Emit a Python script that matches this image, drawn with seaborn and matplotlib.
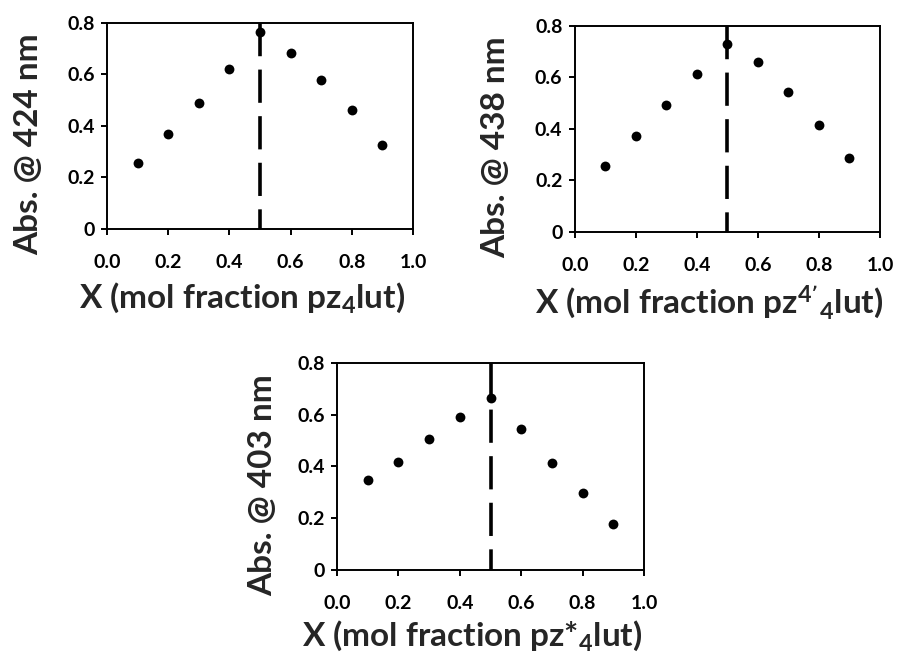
import matplotlib
matplotlib.use('Agg')
import matplotlib.pyplot as plt
import seaborn as sns
import pandas as pd

# mole fraction of ligand
mol_fraction = [0.1, 0.2, 0.3, 0.4, 0.5, 0.6, 0.7, 0.8, 0.9]

# absorbance
abs_424 = [0.258, 0.368, 0.488, 0.623, 0.765, 0.683, 0.579, 0.461, 0.325]
abs_438 = [0.258, 0.372, 0.492, 0.613, 0.729, 0.659, 0.542, 0.417, 0.288]
abs_403 = [0.346, 0.418, 0.505, 0.592, 0.663, 0.545, 0.414, 0.296, 0.179]

x_ticks = [0.0, 0.2, 0.4, 0.6, 0.8, 1.0]
x_tick_labels = ['0.0', '0.2', '0.4', '0.6', '0.8', '1.0']
y_ticks = [0, 0.2, 0.4, 0.6, 0.8]
y_tick_labels = ['0', '0.2', '0.4', '0.6', '0.8']
x_max_line = 0.5

y_labels = ['Abs. @ 424 nm', 'Abs. @ 438 nm', 'Abs. @ 403 nm']
x_labels = ['X (mol fraction pz$_{4}$lut)',
            'X (mol fraction pz$^{4\u2019}$$_{4}$lut)',
            'X (mol fraction pz*$_{4}$lut)']

sns.set_style('ticks')
plt.rcParams['font.family'] = ['Lato', 'DejaVu Sans']
plt.rcParams['font.weight'] = 'bold'
plt.rcParams['mathtext.default'] = 'regular'

fig = plt.figure(figsize=(8.97, 6.52), dpi=100)
boxes = [[0.1193, 0.6488, 0.3411, 0.316],
         [0.641, 0.6442, 0.340, 0.316],
         [0.3757, 0.1258, 0.3423, 0.3175]]
ylab_x = [-0.209, -0.213, -0.195]
xlab_y = [-0.25, -0.25, -0.235]

for i, (vals, box) in enumerate(zip([abs_424, abs_438, abs_403], boxes)):
    ax = fig.add_axes(box)
    df = pd.DataFrame({'x': mol_fraction, 'y': vals})
    ax.plot([x_max_line, x_max_line], [0.8, 0], color='black', lw=2.6,
            dashes=(9.2, 3.7), zorder=1)
    sns.scatterplot(data=df, x='x', y='y', ax=ax, color='black', s=50,
                    edgecolor='black', linewidth=0, zorder=3)
    ax.set_xlim(0, 1)
    ax.set_ylim(0, 0.8)
    ax.set_xticks(x_ticks)
    ax.set_xticklabels(x_tick_labels)
    ax.set_yticks(y_ticks)
    ax.set_yticklabels(y_tick_labels)
    for s in ax.spines.values():
        s.set_visible(True)
        s.set_linewidth(1.4)
        s.set_color('black')
    ax.tick_params(axis='x', direction='out', length=4, width=1.4, pad=14,
                   labelsize=14, colors='black')
    ax.tick_params(axis='y', direction='out', length=4, width=1.4, pad=5,
                   labelsize=14, colors='black')
    for lab in ax.get_xticklabels() + ax.get_yticklabels():
        lab.set_fontweight('bold')
    ax.set_xlabel(x_labels[i], fontsize=24, fontweight='bold')
    ax.set_ylabel(y_labels[i], fontsize=24, fontweight='bold')
    ax.xaxis.set_label_coords(0.44, xlab_y[i])
    ax.yaxis.set_label_coords(ylab_x[i], 0.41)

fig.savefig('out.png', dpi=100, facecolor='white')
